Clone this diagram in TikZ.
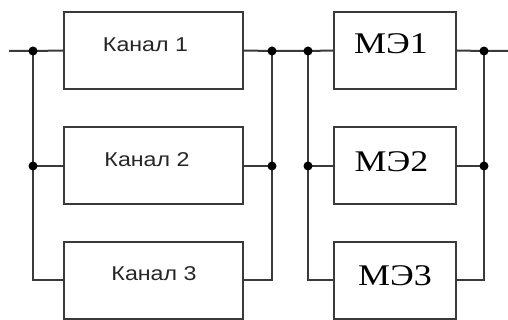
\documentclass[tikz,border=0pt]{standalone}
\usepackage{fontspec}
\setmainfont{Liberation Serif}
\newfontfamily\kfont{Liberation Sans}
\newfontfamily\mfont{Liberation Serif}
\definecolor{ln}{HTML}{3A3A3A}
\begin{document}
\begin{tikzpicture}[x=1pt,y=-1pt,
  wire/.style={draw=ln,line width=2pt},
  kbox/.style={draw=ln,line width=2pt,minimum width=179pt,minimum height=77pt,inner sep=0pt,anchor=center},
  mbox/.style={draw=ln,line width=2pt,minimum width=122pt,minimum height=77pt,inner sep=0pt,anchor=center},
  ktext/.style={anchor=base,inner sep=0pt,font=\kfont\fontsize{20}{20}\selectfont,text=black!85},
  mtext/.style={anchor=base,inner sep=0pt,font=\mfont\fontsize{30}{30}\selectfont,text=black},
  dot/.style={circle,fill=black,inner sep=0pt,minimum size=9pt}]
\useasboundingbox (0,0) rectangle (508,320);
\fill[white] (0,0) rectangle (508,320);
% boxes
\node[kbox] (k1) at (153.5,50.5) {};
\node[kbox] (k2) at (153.5,166) {};
\node[kbox] (k3) at (153.5,280) {};
\node[mbox] (m1) at (395,50.5) {};
\node[mbox] (m2) at (395,166) {};
\node[mbox] (m3) at (395,280) {};
% texts
\node[ktext] (t1) at (145.5,52) {\scalebox{1.16}[1]{Канал 1}};
\node[ktext] (t2) at (147,167) {\scalebox{1.16}[1]{Канал 2}};
\node[ktext] (t3) at (154,280) {\scalebox{1.16}[1]{Канал 3}};
\node[mtext] (u1) at (391,54) {\scalebox{1.2}[1]{МЭ1}};
\node[mtext] (u2) at (391.5,172) {\scalebox{1.2}[1]{МЭ2}};
\node[mtext] (u3) at (395,285) {\scalebox{1.2}[1]{МЭ3}};
% junction coordinates
\coordinate (in) at (9,51);
\coordinate (out) at (508,51);
\coordinate (a1) at (33,51);
\coordinate (a2) at (33,166);
\coordinate (a3) at (33,280);
\coordinate (b1) at (272,51);
\coordinate (b2) at (272,166);
\coordinate (b3) at (272,280);
\coordinate (c1) at (308,51);
\coordinate (c2) at (308,166);
\coordinate (c3) at (308,280);
\coordinate (d1) at (484,51);
\coordinate (d2) at (484,166);
\coordinate (d3) at (484,280);
% wires
\draw[wire] (in) -- (a1) -- (k1.west);
\draw[wire] (a1) -- (a2) -- (k2.west);
\draw[wire] (a2) -- (a3) -- (k3.west);
\draw[wire] (k1.east) -- (b1) -- (c1) -- (m1.west);
\draw[wire] (k2.east) -- (b2);
\draw[wire] (k3.east) -- (b3) -- (b2) -- (b1);
\draw[wire] (c1) -- (c2) -- (m2.west);
\draw[wire] (c2) -- (c3) -- (m3.west);
\draw[wire] (m1.east) -- (d1) -- (out);
\draw[wire] (m2.east) -- (d2);
\draw[wire] (m3.east) -- (d3) -- (d2) -- (d1);
% dots
\foreach \p in {a1,a2,b1,b2,c1,c2,d1,d2} \node[dot] (dot-\p) at (\p) {};
\end{tikzpicture}
\end{document}
